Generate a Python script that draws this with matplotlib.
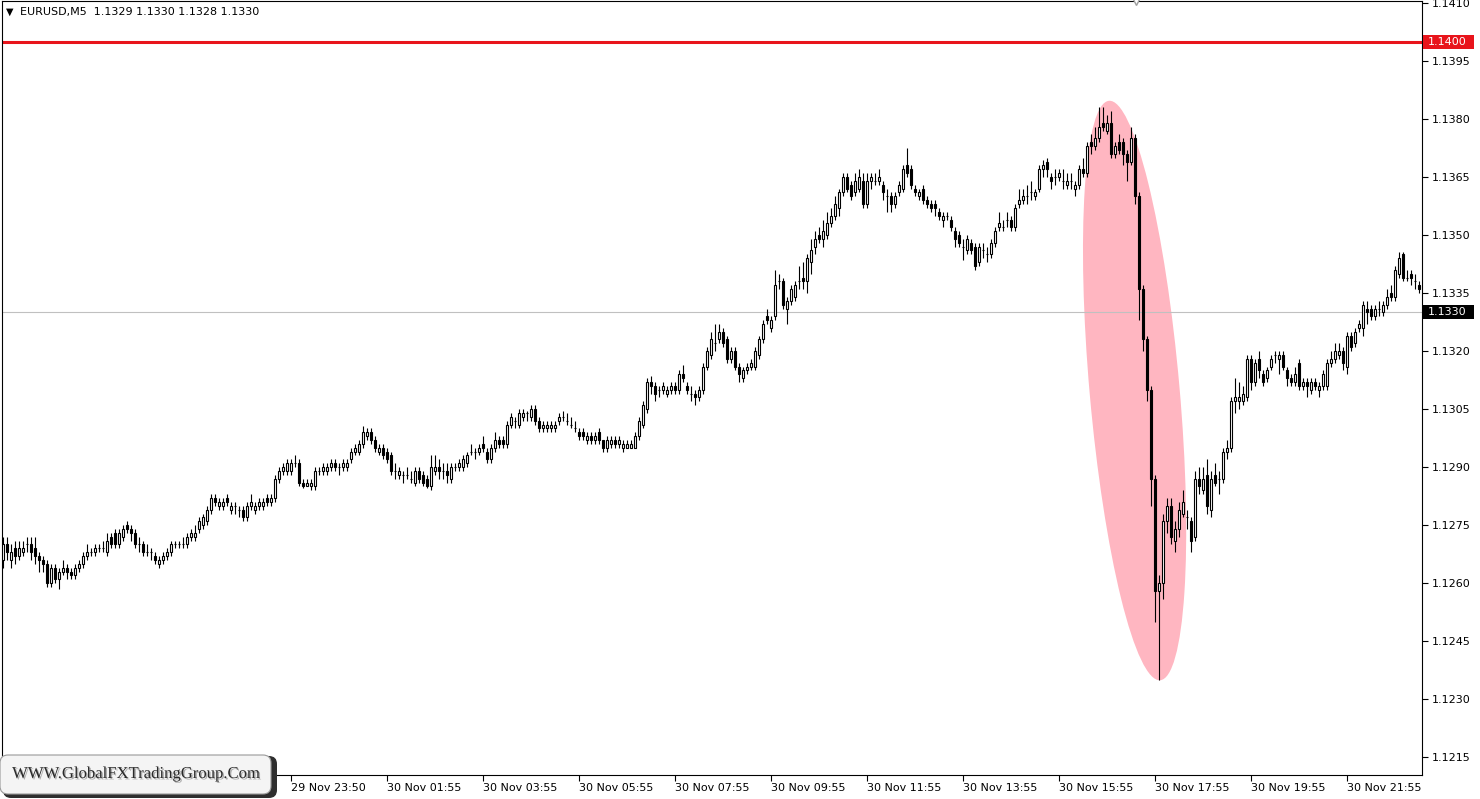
import numpy as np
import matplotlib.pyplot as plt
import matplotlib.patheffects as pe
from matplotlib.patches import Ellipse, FancyBboxPatch, Rectangle
from matplotlib.transforms import IdentityTransform, blended_transform_factory

# EURUSD M5 candles (one value per bar)
OPEN = [
    1.1266, 1.1270, 1.1266, 1.1269, 1.1267, 1.1268, 1.1270, 1.1270, 1.1269, 1.1267,
    1.1266, 1.1265, 1.1260, 1.1264, 1.1261, 1.1263, 1.1264, 1.1263, 1.1262, 1.1264,
    1.1265, 1.1267, 1.1268, 1.1268, 1.1269, 1.1269, 1.1268, 1.1272, 1.1273, 1.1270,
    1.1272, 1.1275, 1.1274, 1.1273, 1.1270, 1.1270, 1.1268, 1.1268, 1.1267, 1.1265,
    1.1266, 1.1267, 1.1268, 1.1270, 1.1270, 1.1270, 1.1270, 1.1272, 1.1272, 1.1274,
    1.1275, 1.1276, 1.1279, 1.1282, 1.1280, 1.1280, 1.1282, 1.1279, 1.1280, 1.1279,
    1.1279, 1.1277, 1.1280, 1.1279, 1.1280, 1.1280, 1.1282, 1.1281, 1.1282, 1.1287,
    1.1289, 1.1289, 1.1289, 1.1291, 1.1291, 1.1286, 1.1285, 1.1285, 1.1285, 1.1289,
    1.1289, 1.1289, 1.1290, 1.1291, 1.1290, 1.1290, 1.1290, 1.1292, 1.1294, 1.1294,
    1.1296, 1.1298, 1.1299, 1.1297, 1.1294, 1.1295, 1.1294, 1.1293, 1.1289, 1.1288,
    1.1288, 1.1288, 1.1287, 1.1286, 1.1289, 1.1288, 1.1287, 1.1285, 1.1289, 1.1290,
    1.1289, 1.1289, 1.1287, 1.1290, 1.1290, 1.1290, 1.1291, 1.1294, 1.1294, 1.1294,
    1.1296, 1.1294, 1.1292, 1.1295, 1.1297, 1.1297, 1.1296, 1.1301, 1.1302, 1.1301,
    1.1303, 1.1304, 1.1303, 1.1305, 1.1302, 1.1300, 1.1300, 1.1300, 1.1300, 1.1302,
    1.1303, 1.1302, 1.1301, 1.1300, 1.1299, 1.1299, 1.1297, 1.1298, 1.1297, 1.1299,
    1.1297, 1.1295, 1.1296, 1.1297, 1.1296, 1.1295, 1.1295, 1.1295, 1.1295, 1.1298,
    1.1301, 1.1305, 1.1312, 1.1311, 1.1310, 1.1310, 1.1309, 1.1310, 1.1311, 1.1310,
    1.1314, 1.1311, 1.1309, 1.1309, 1.1308, 1.1310, 1.1316, 1.1319, 1.1322, 1.1323,
    1.1325, 1.1323, 1.1318, 1.1320, 1.1316, 1.1313, 1.1315, 1.1316, 1.1316, 1.1319,
    1.1323, 1.1329, 1.1326, 1.1329, 1.1338, 1.1338, 1.1331, 1.1333, 1.1334, 1.1338,
    1.1339, 1.1338, 1.1343, 1.1347, 1.1350, 1.1349, 1.1350, 1.1353, 1.1355, 1.1357,
    1.1361, 1.1365, 1.1363, 1.1361, 1.1362, 1.1364, 1.1358, 1.1364, 1.1364, 1.1364,
    1.1363, 1.1360, 1.1360, 1.1358, 1.1361, 1.1362, 1.1368, 1.1367, 1.1362, 1.1360,
    1.1362, 1.1359, 1.1358, 1.1358, 1.1356, 1.1354, 1.1355, 1.1354, 1.1351, 1.1350,
    1.1347, 1.1346, 1.1348, 1.1347, 1.1343, 1.1346, 1.1345, 1.1345, 1.1348, 1.1352,
    1.1352, 1.1354, 1.1354, 1.1352, 1.1358, 1.1359, 1.1360, 1.1361, 1.1360, 1.1362,
    1.1367, 1.1369, 1.1365, 1.1365, 1.1365, 1.1364, 1.1363, 1.1364, 1.1362, 1.1363,
    1.1367, 1.1366, 1.1374, 1.1373, 1.1375, 1.1379, 1.1377, 1.1379, 1.1371, 1.1374,
    1.1374, 1.1371, 1.1369, 1.1375, 1.1360, 1.1336, 1.1323, 1.1310, 1.1287, 1.1258,
    1.1260, 1.1276, 1.1280, 1.1271, 1.1274, 1.1278, 1.1277, 1.1276, 1.1272, 1.1287,
    1.1284, 1.1288, 1.1279, 1.1288, 1.1287, 1.1287, 1.1294, 1.1295, 1.1307, 1.1307,
    1.1307, 1.1308, 1.1318, 1.1312, 1.1318, 1.1314, 1.1313, 1.1316, 1.1319, 1.1318,
    1.1319, 1.1315, 1.1313, 1.1312, 1.1317, 1.1311, 1.1312, 1.1310, 1.1312, 1.1310,
    1.1311, 1.1311, 1.1317, 1.1318, 1.1319, 1.1320, 1.1316, 1.1324, 1.1322, 1.1326,
    1.1326, 1.1331, 1.1331, 1.1329, 1.1331, 1.1330, 1.1332, 1.1335, 1.1334, 1.1340,
    1.1345, 1.1339, 1.1340, 1.1338, 1.1337,
]
HIGH = [
    1.1272, 1.1272, 1.1270, 1.1271, 1.1271, 1.1271, 1.1272, 1.1272, 1.1272, 1.1268,
    1.1267, 1.1266, 1.1265, 1.1265, 1.1264, 1.1266, 1.1265, 1.1264, 1.1265, 1.1266,
    1.1268, 1.1270, 1.1269, 1.1270, 1.1270, 1.1271, 1.1273, 1.1273, 1.1274, 1.1274,
    1.1275, 1.1276, 1.1275, 1.1274, 1.1272, 1.1271, 1.1270, 1.1269, 1.1268, 1.1267,
    1.1268, 1.1269, 1.1271, 1.1271, 1.1271, 1.1272, 1.1273, 1.1274, 1.1275, 1.1277,
    1.1278, 1.1280, 1.1283, 1.1283, 1.1282, 1.1282, 1.1283, 1.1281, 1.1281, 1.1280,
    1.1280, 1.1281, 1.1283, 1.1281, 1.1282, 1.1282, 1.1283, 1.1283, 1.1288, 1.1290,
    1.1291, 1.1292, 1.1292, 1.1293, 1.1292, 1.1287, 1.1287, 1.1287, 1.1290, 1.1290,
    1.1291, 1.1291, 1.1292, 1.1292, 1.1291, 1.1292, 1.1292, 1.1295, 1.1296, 1.1297,
    1.13005, 1.1300, 1.1300, 1.1298, 1.1296, 1.1296, 1.1295, 1.1294, 1.1291, 1.1290,
    1.1289, 1.1290, 1.1289, 1.1290, 1.1290, 1.1289, 1.1288, 1.1293, 1.1293, 1.1292,
    1.1291, 1.1291, 1.1291, 1.1291, 1.1292, 1.1293, 1.1294, 1.1296, 1.1295, 1.1296,
    1.1298, 1.1295, 1.1296, 1.1299, 1.1298, 1.1298, 1.1302, 1.1304, 1.1303, 1.1305,
    1.1305, 1.13045, 1.1306, 1.1306, 1.1303, 1.1302, 1.1302, 1.1302, 1.1302, 1.1304,
    1.13045, 1.1304, 1.1303, 1.1302, 1.1300, 1.1300, 1.1299, 1.1299, 1.1299, 1.1300,
    1.1297, 1.1298, 1.1298, 1.1298, 1.1298, 1.1297, 1.1297, 1.1297, 1.1299, 1.1303,
    1.1307, 1.1313, 1.13135, 1.1312, 1.1311, 1.1312, 1.1311, 1.1312, 1.1312, 1.1315,
    1.13165, 1.1312, 1.1311, 1.1310, 1.1311, 1.1317, 1.1321, 1.1325, 1.1327, 1.1327,
    1.1326, 1.1324, 1.1321, 1.1321, 1.1317, 1.1316, 1.1317, 1.1318, 1.1321, 1.1324,
    1.1328, 1.1331, 1.1329, 1.1341, 1.1340, 1.1339, 1.1334, 1.1337, 1.1338, 1.1342,
    1.1343, 1.1345, 1.1349, 1.1351, 1.1352, 1.1354, 1.1356, 1.1357, 1.1360, 1.1362,
    1.1366, 1.1366, 1.1364, 1.1366, 1.1367, 1.1366, 1.1366, 1.1366, 1.1366, 1.1367,
    1.1364, 1.1362, 1.1361, 1.1361, 1.1364, 1.1368, 1.13725, 1.1368, 1.1363, 1.1362,
    1.1363, 1.1360, 1.1359, 1.1359, 1.1357, 1.1356, 1.1356, 1.1355, 1.1352, 1.1351,
    1.1349, 1.1350, 1.1349, 1.1348, 1.1348, 1.1348, 1.1347, 1.1349, 1.1352, 1.1356,
    1.1354, 1.1356, 1.1355, 1.1358, 1.1362, 1.1362, 1.1363, 1.1364, 1.1362, 1.1368,
    1.13695, 1.1370, 1.1366, 1.1367, 1.1367, 1.1367, 1.1366, 1.1366, 1.1364, 1.1368,
    1.1370, 1.1374, 1.1376, 1.1378, 1.1383, 1.1383, 1.1381, 1.1382, 1.1374, 1.1376,
    1.1375, 1.1372, 1.1378, 1.1376, 1.1361, 1.1337, 1.1324, 1.1311, 1.1288, 1.1262,
    1.1278, 1.1282, 1.1282, 1.1276, 1.1281, 1.1284, 1.1279, 1.1277, 1.1289, 1.1290,
    1.1290, 1.1292, 1.1289, 1.1291, 1.1289, 1.1295, 1.1297, 1.1308, 1.1313, 1.1312,
    1.1311, 1.1319, 1.1319, 1.1318, 1.1320, 1.1315, 1.1316, 1.1319, 1.1320, 1.1320,
    1.1320, 1.1316, 1.1314, 1.1316, 1.1318, 1.1313, 1.1313, 1.1313, 1.1313, 1.1312,
    1.1315, 1.1318, 1.1320, 1.1322, 1.1322, 1.1321, 1.1325, 1.1325, 1.1326, 1.1328,
    1.1333, 1.1333, 1.1332, 1.1332, 1.1333, 1.1333, 1.1336, 1.1337, 1.1342, 1.13455,
    1.13455, 1.1341, 1.1341, 1.1340, 1.1338,
]
LOW = [
    1.1264, 1.1266, 1.1264, 1.1265, 1.1266, 1.1267, 1.1268, 1.1266, 1.1265, 1.1263,
    1.1263, 1.1259, 1.1259, 1.1260, 1.12585, 1.1262, 1.1261, 1.1261, 1.1261, 1.1263,
    1.1264, 1.1266, 1.1267, 1.1267, 1.1268, 1.1268, 1.1267, 1.1269, 1.1269, 1.1269,
    1.1271, 1.1273, 1.1271, 1.1269, 1.1268, 1.1267, 1.1267, 1.1266, 1.1265, 1.1264,
    1.1265, 1.1266, 1.1267, 1.1269, 1.1269, 1.1269, 1.1269, 1.1271, 1.1271, 1.1273,
    1.1274, 1.1275, 1.1278, 1.1280, 1.1279, 1.1279, 1.1280, 1.1278, 1.1278, 1.1277,
    1.1276, 1.1276, 1.1279, 1.1278, 1.1279, 1.1279, 1.1280, 1.1280, 1.1281, 1.1286,
    1.1288, 1.1288, 1.1288, 1.1290, 1.1285, 1.12845, 1.1285, 1.1284, 1.1284, 1.1288,
    1.1288, 1.1288, 1.1289, 1.1289, 1.1288, 1.1289, 1.1289, 1.1291, 1.1293, 1.1293,
    1.1295, 1.1297, 1.1296, 1.1294, 1.1293, 1.1292, 1.1291, 1.1288, 1.1287, 1.1287,
    1.1286, 1.1287, 1.1286, 1.1285, 1.1286, 1.1285, 1.12845, 1.1284, 1.1288, 1.1287,
    1.1287, 1.1286, 1.1286, 1.1289, 1.1289, 1.1289, 1.1290, 1.1293, 1.1292, 1.1293,
    1.1294, 1.1291, 1.1291, 1.1294, 1.1295, 1.1295, 1.1295, 1.1300, 1.1300, 1.1300,
    1.1302, 1.1302, 1.1302, 1.1301, 1.1299, 1.1299, 1.1299, 1.1299, 1.1299, 1.1301,
    1.1302, 1.1301, 1.1300, 1.1299, 1.1297, 1.1297, 1.1296, 1.1296, 1.1296, 1.1296,
    1.1294, 1.1294, 1.1295, 1.1295, 1.1295, 1.1294, 1.1295, 1.1295, 1.1295, 1.1297,
    1.1300, 1.1304, 1.1309, 1.1307, 1.1308, 1.1309, 1.1308, 1.1309, 1.1309, 1.1309,
    1.1312, 1.1309, 1.1307, 1.1306, 1.1307, 1.1309, 1.1315, 1.1318, 1.1320, 1.1322,
    1.1321, 1.1317, 1.1317, 1.1315, 1.1312, 1.1312, 1.1314, 1.1315, 1.1315, 1.1318,
    1.1322, 1.1327, 1.1325, 1.1328, 1.1336, 1.1331, 1.1327, 1.1332, 1.1333, 1.1336,
    1.1336, 1.1335, 1.1340, 1.1345, 1.1348, 1.1347, 1.1349, 1.1352, 1.1354, 1.1355,
    1.1360, 1.1361, 1.1359, 1.1360, 1.1361, 1.1357, 1.1357, 1.1362, 1.1363, 1.1363,
    1.1359, 1.1356, 1.1356, 1.1357, 1.1360, 1.1361, 1.1365, 1.1362, 1.1360, 1.1359,
    1.1358, 1.1357, 1.1356, 1.1355, 1.1354, 1.1352, 1.1354, 1.1351, 1.1347, 1.1347,
    1.13435, 1.1345, 1.1345, 1.1341, 1.1342, 1.1344, 1.1343, 1.1344, 1.1347, 1.1351,
    1.1351, 1.1352, 1.1351, 1.1351, 1.1357, 1.1358, 1.1358, 1.1359, 1.1359, 1.1361,
    1.1365, 1.1365, 1.1362, 1.1363, 1.1364, 1.1362, 1.1362, 1.1362, 1.1360, 1.1362,
    1.1365, 1.1365, 1.1371, 1.1372, 1.1374, 1.1377, 1.1376, 1.1370, 1.1370, 1.1371,
    1.1368, 1.1364, 1.1368, 1.1358, 1.1328, 1.1320, 1.1307, 1.1280, 1.1250, 1.1235,
    1.1256, 1.1273, 1.1270, 1.1268, 1.1272, 1.1277, 1.1274, 1.1268, 1.1271, 1.1283,
    1.1283, 1.1278, 1.1277, 1.1285, 1.1283, 1.1286, 1.1292, 1.1294, 1.1304, 1.1305,
    1.1306, 1.1307, 1.1310, 1.1311, 1.1313, 1.1311, 1.1312, 1.1315, 1.1317, 1.1314,
    1.1315, 1.1311, 1.1311, 1.1311, 1.1310, 1.1310, 1.1308, 1.1309, 1.1310, 1.1308,
    1.1310, 1.1310, 1.1316, 1.1317, 1.1318, 1.1315, 1.1314, 1.1320, 1.1321, 1.1325,
    1.1324, 1.1327, 1.1328, 1.1328, 1.1329, 1.1329, 1.1331, 1.1333, 1.1333, 1.1339,
    1.1338, 1.1338, 1.1337, 1.1336, 1.1335,
]
CLOSE = [
    1.1270, 1.1268, 1.1268, 1.1267, 1.1269, 1.1269, 1.1270, 1.1268, 1.1267, 1.1266,
    1.1265, 1.1260, 1.1264, 1.1261, 1.1263, 1.1264, 1.1263, 1.1262, 1.1264, 1.1265,
    1.1267, 1.1268, 1.1268, 1.1269, 1.1269, 1.1269, 1.1271, 1.1270, 1.1270, 1.1273,
    1.1274, 1.1274, 1.1273, 1.1270, 1.1270, 1.1268, 1.1268, 1.1268, 1.1266, 1.1266,
    1.1267, 1.1268, 1.1270, 1.1270, 1.1270, 1.1270, 1.1272, 1.1273, 1.1273, 1.1276,
    1.1277, 1.1279, 1.1282, 1.1281, 1.1281, 1.1281, 1.1281, 1.1280, 1.1280, 1.1279,
    1.1277, 1.1280, 1.1281, 1.1280, 1.1281, 1.1281, 1.1281, 1.1282, 1.1287, 1.1289,
    1.1290, 1.1291, 1.1291, 1.1291, 1.1286, 1.1285, 1.1286, 1.1286, 1.1289, 1.1289,
    1.1290, 1.1290, 1.1291, 1.1290, 1.1290, 1.1291, 1.1291, 1.1294, 1.1295, 1.1296,
    1.1299, 1.1299, 1.1297, 1.1295, 1.1295, 1.1293, 1.1292, 1.1289, 1.1289, 1.1289,
    1.1288, 1.1288, 1.1287, 1.1289, 1.1287, 1.1286, 1.1285, 1.1290, 1.1290, 1.1289,
    1.1289, 1.1288, 1.1290, 1.1290, 1.1291, 1.1292, 1.1293, 1.1294, 1.1294, 1.1295,
    1.1295, 1.1292, 1.1295, 1.1297, 1.1296, 1.1296, 1.1301, 1.1303, 1.1302, 1.1304,
    1.1304, 1.1304, 1.1305, 1.1302, 1.1300, 1.1301, 1.1301, 1.1301, 1.1301, 1.1303,
    1.1303, 1.1302, 1.1301, 1.1300, 1.1298, 1.1298, 1.1298, 1.1297, 1.1298, 1.1297,
    1.1295, 1.1297, 1.1297, 1.1296, 1.1297, 1.1296, 1.1296, 1.1296, 1.1298, 1.1302,
    1.1306, 1.1312, 1.1311, 1.1309, 1.1310, 1.1311, 1.1310, 1.1311, 1.1310, 1.1314,
    1.1313, 1.1310, 1.1309, 1.1308, 1.1310, 1.1316, 1.1320, 1.1323, 1.1322, 1.1325,
    1.1322, 1.1318, 1.1320, 1.1316, 1.1314, 1.1315, 1.1316, 1.1317, 1.1320, 1.1323,
    1.1327, 1.1328, 1.1328, 1.1337, 1.1338, 1.1332, 1.1333, 1.1336, 1.1337, 1.1338,
    1.1338, 1.1344, 1.1346, 1.1349, 1.1349, 1.1351, 1.1353, 1.1355, 1.1358, 1.1361,
    1.1365, 1.1362, 1.1360, 1.1364, 1.1365, 1.1358, 1.1364, 1.1365, 1.1364, 1.1365,
    1.1361, 1.1360, 1.1358, 1.1360, 1.1363, 1.1367, 1.1366, 1.1363, 1.1361, 1.1361,
    1.1359, 1.1358, 1.1357, 1.1357, 1.1355, 1.1355, 1.1355, 1.1352, 1.1349, 1.1348,
    1.1347, 1.1349, 1.1346, 1.1342, 1.1347, 1.1346, 1.1345, 1.1348, 1.1351, 1.1353,
    1.1352, 1.1354, 1.1352, 1.1357, 1.1359, 1.1360, 1.1360, 1.1361, 1.1361, 1.1367,
    1.1368, 1.1367, 1.1364, 1.1365, 1.1366, 1.1364, 1.1364, 1.1364, 1.1363, 1.1367,
    1.1366, 1.1373, 1.1373, 1.1375, 1.1378, 1.1378, 1.1379, 1.1371, 1.1373, 1.1372,
    1.1371, 1.1369, 1.1375, 1.1360, 1.1336, 1.1323, 1.1310, 1.1287, 1.1258, 1.1260,
    1.1276, 1.1280, 1.1272, 1.1274, 1.1279, 1.1281, 1.1277, 1.1271, 1.1287, 1.1285,
    1.1287, 1.1280, 1.1287, 1.1286, 1.1287, 1.1294, 1.1295, 1.1307, 1.1308, 1.1308,
    1.1309, 1.1318, 1.1312, 1.1317, 1.1315, 1.1312, 1.1315, 1.1318, 1.1319, 1.1319,
    1.1316, 1.1313, 1.1312, 1.1314, 1.1311, 1.1312, 1.1311, 1.1312, 1.1311, 1.1311,
    1.1314, 1.1317, 1.1318, 1.1320, 1.1320, 1.1317, 1.1324, 1.1321, 1.1325, 1.1327,
    1.1332, 1.1330, 1.1329, 1.1331, 1.1331, 1.1332, 1.1334, 1.1334, 1.1341, 1.1344,
    1.1339, 1.1339, 1.1339, 1.1338, 1.1336,
]

PRICE_TICKS = [1.1410, 1.1395, 1.1380, 1.1365, 1.1350, 1.1335, 1.1320,
               1.1305, 1.1290, 1.1275, 1.1260, 1.1245, 1.1230, 1.1215]
PRICE_RANGE = (1.12104, 1.14105)

TIME_LABELS = ['29 Nov 23:50', '30 Nov 01:55', '30 Nov 03:55', '30 Nov 05:55',
               '30 Nov 07:55', '30 Nov 09:55', '30 Nov 11:55', '30 Nov 13:55',
               '30 Nov 15:55', '30 Nov 17:55', '30 Nov 19:55', '30 Nov 21:55']
TIME_LABEL_BARS = [72, 96, 120, 144, 168, 192, 216, 240, 264, 288, 312, 336]

RESISTANCE = 1.1400
LAST_PRICE = 1.1330
HEADER = 'EURUSD,M5  1.1329 1.1330 1.1328 1.1330'

# the highlighted crash: ellipse drawn from the top of the spike to the low
ELLIPSE_TOP = (276.5, 1.13847)
ELLIPSE_BOTTOM = (289.3, 1.12349)

W, H = 1480, 799
RED = '#e8141b'

o = np.array(OPEN)
h = np.array(HIGH)
l = np.array(LOW)
c = np.array(CLOSE)
x = np.arange(len(c))
up = c >= o

fig = plt.figure(figsize=(W / 100, H / 100), dpi=100)
fig.patch.set_facecolor('white')
ax = fig.add_axes([2 / W, 24 / H, 1420 / W, 774 / H])
ax.set_xlim(-0.25, len(c) - 0.25)
ax.set_ylim(*PRICE_RANGE)

# horizontal levels
ax.axhline(LAST_PRICE, color='#c0c0c0', lw=0.8, zorder=1)
ax.axhline(RESISTANCE, color=RED, lw=2.2, zorder=2)

# candles
ax.vlines(x, l, h, color='black', lw=0.8, zorder=3)
ax.bar(x[up], (c - o)[up], bottom=o[up], width=0.5, color='white',
       edgecolor='black', lw=0.8, zorder=4)
ax.bar(x[~up], (o - c)[~up], bottom=c[~up], width=0.5, color='black',
       edgecolor='black', lw=0.8, zorder=4)

# price axis on the right
ax.yaxis.tick_right()
ax.set_yticks(PRICE_TICKS)
ax.set_yticklabels([f'{v:.4f}' for v in PRICE_TICKS])
ax.tick_params(axis='y', direction='out', length=4, width=0.8, pad=3,
               labelsize=8, colors='black')

ax.set_xticks(TIME_LABEL_BARS)
ax.set_xticklabels(TIME_LABELS, ha='left')
ax.tick_params(axis='x', direction='out', length=4, width=0.8, pad=2,
               labelsize=8, colors='black')
for s in ax.spines.values():
    s.set_color('black')
    s.set_linewidth(0.8)

# price tags on the axis (boxes sized in pixels)
for level, colour in [(RESISTANCE, RED), (LAST_PRICE, 'black')]:
    px, py = ax.transData.transform((len(c) - 0.25, level))
    ax.add_patch(Rectangle((px + 1, py - 7), 51, 14, transform=IdentityTransform(),
                           fc=colour, ec='none', clip_on=False, zorder=6))
    fig.text((px + 6) / W, py / H, f'{level:.4f}', color='white', fontsize=8,
             va='center', ha='left', zorder=7)

# pink ellipse around the drop, built in pixel space from two data points
p1 = ax.transData.transform(ELLIPSE_TOP)
p2 = ax.transData.transform(ELLIPSE_BOTTOM)
centre = (p1 + p2) / 2
length = np.hypot(*(p1 - p2))
angle = np.degrees(np.arctan2(p1[1] - p2[1], p1[0] - p2[0]))
ell = Ellipse(centre, width=length, height=90, angle=angle,
              transform=IdentityTransform(), fc='#ffb6c1', ec='none', zorder=0.5)
ax.add_patch(ell)

# chart shift marker
ax.plot([283.3], [1.0], transform=blended_transform_factory(ax.transData, ax.transAxes),
        marker='v', ms=6, mfc='white', mec='#a0a0a0', clip_on=False, zorder=6)

# header
fig.text(6 / W, 1 - 12 / H, '\u25BC', fontsize=7, va='center', ha='left')
fig.text(20 / W, 1 - 12 / H, HEADER, fontsize=8, va='center', ha='left')

# watermark box
wax = fig.add_axes([0, 0, 280 / W, 46 / H])
wax.set_xlim(0, 280)
wax.set_ylim(0, 46)
wax.axis('off')
shadow = FancyBboxPatch((3, 1), 274, 42, boxstyle='round,pad=0,rounding_size=8',
                        fc='#2e2e2e', ec='none')
wax.add_patch(shadow)
box = FancyBboxPatch((0, 5), 271, 39, boxstyle='round,pad=0,rounding_size=8',
                     fc='#f4f4f4', ec='#9a9a9a', lw=0.8)
wax.add_patch(box)
grad = np.linspace(1.0, 0.82, 50).reshape(-1, 1)
im = wax.imshow(grad, extent=(0, 271, 44, 5), cmap='gray', vmin=0, vmax=1,
                aspect='auto')
im.set_clip_path(box)
wax.text(136, 25, 'WWW.GlobalFXTradingGroup.Com', family='Liberation Serif',
         fontsize=12, color='#2a2a2a', ha='center', va='center',
         path_effects=[pe.withSimplePatchShadow(offset=(1, -1), shadow_rgbFace='#9a9a9a', alpha=0.8)])

fig.savefig('out.png', dpi=100)
